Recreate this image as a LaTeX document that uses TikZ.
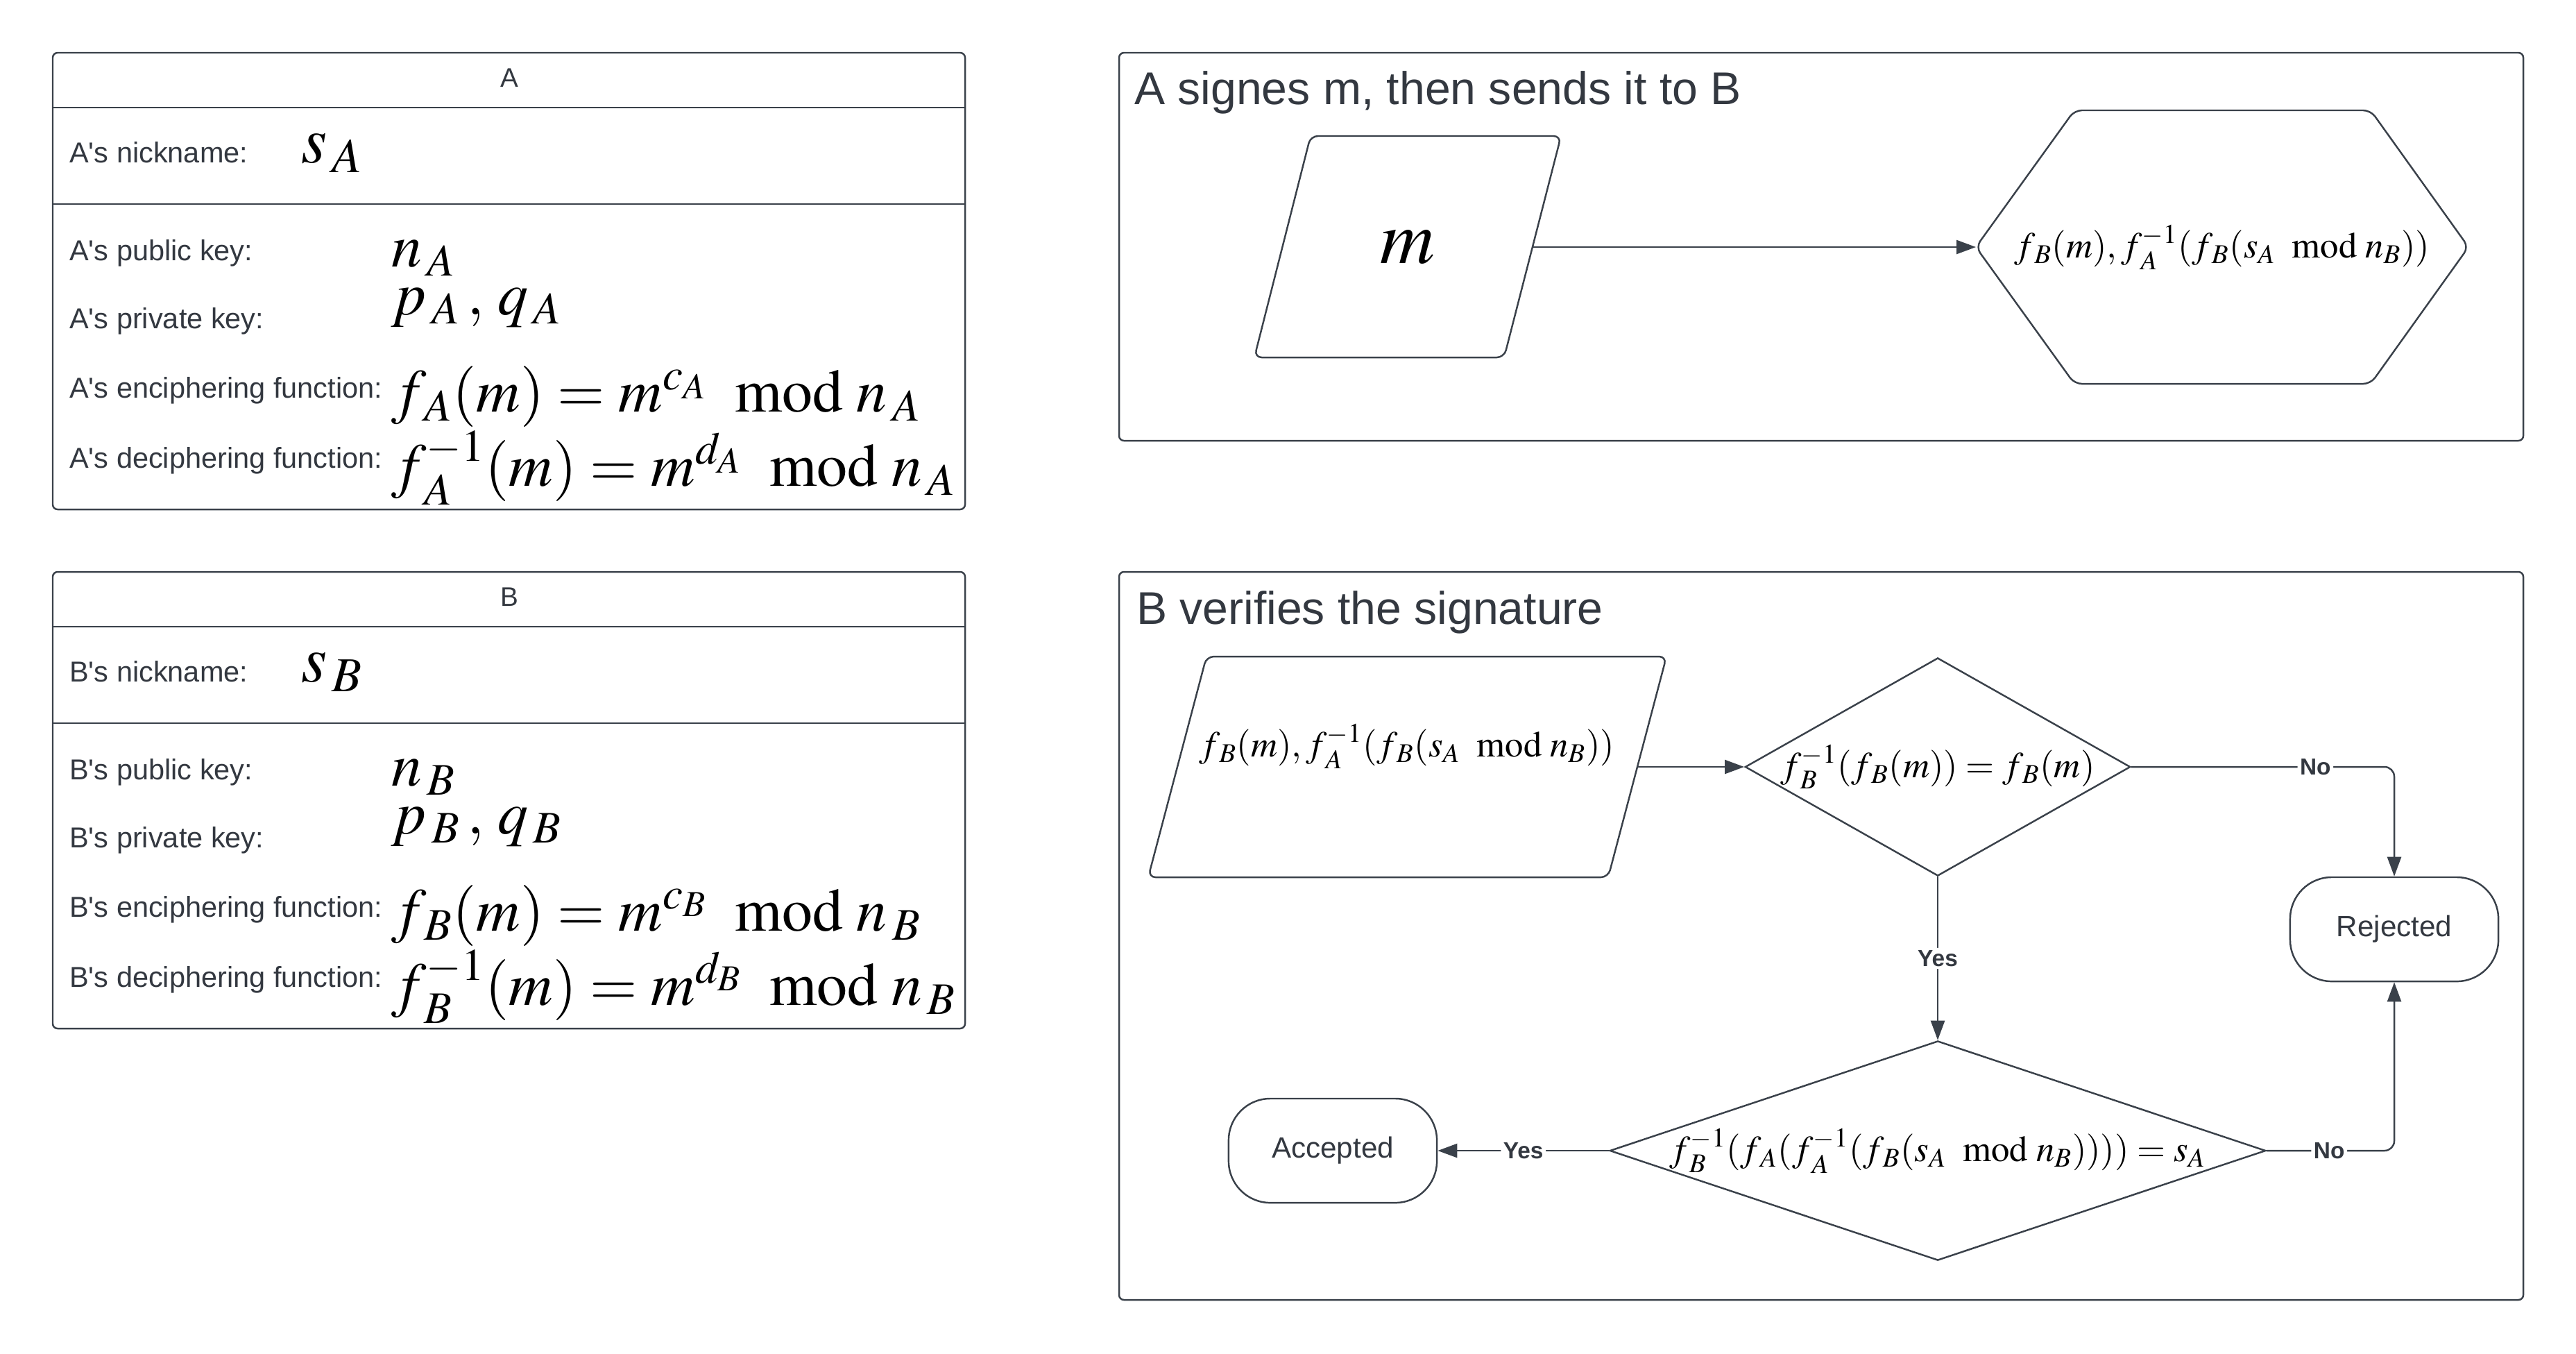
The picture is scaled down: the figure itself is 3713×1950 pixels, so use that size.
\documentclass[tikz,border=0pt]{standalone}
\usepackage{amsmath}
\usepackage{mathptmx}
\usepackage[no-math]{fontspec}
\setmainfont{Liberation Sans}
\usetikzlibrary{shapes.geometric,arrows.meta}
\definecolor{ink}{RGB}{58,65,74}
\definecolor{txt}{RGB}{51,56,64}
\newcommand{\q}{\textquotesingle}
\newcommand{\md}{\mkern8mu\mathrm{mod}\mkern4mu}

\begin{document}
\begin{tikzpicture}[x=0.01cm,y=-0.01cm,line width=0.7pt,
	panel/.style={draw=ink,rounded corners=2pt},
	lbl/.style={anchor=base west,inner sep=0pt,text=txt,font=\fontsize{11.8}{14}\selectfont},
	key/.style={anchor=base west,inner sep=0pt,font=\fontsize{25}{28}\selectfont},
	para/.style={draw=ink,rounded corners=3pt},
	decision/.style={diamond,draw=ink,inner sep=2pt},
	term/.style={rectangle,draw=ink,rounded corners=0.6cm,minimum width=3cm,
		minimum height=1.5cm,text=txt,font=\fontsize{12}{14}\selectfont},
	formula/.style={inner sep=0pt,font=\fontsize{15}{18}\selectfont},
	title/.style={anchor=base west,inner sep=0pt,text=txt,font=\fontsize{18.8}{22}\selectfont},
	flow/.style={draw=ink,rounded corners=4pt,-{Triangle[length=0.28cm,width=0.2cm]}},
	tag/.style={fill=white,inner sep=1pt,text=txt,font=\bfseries\fontsize{9.5}{11}\selectfont}]
	\useasboundingbox (0,0) rectangle (3713,1950);

	% A's keys
	\draw[panel] (76,76) rectangle (1391,734);
	\draw[ink] (76,155) -- (1391,155);
	\draw[ink] (76,294) -- (1391,294);
	\node[text=txt,font=\fontsize{11}{13}\selectfont] (headA) at (734,112) {A};
	\node[lbl] (nickA) at (99,234) {A\q s nickname:};
	\node[key,font=\fontsize{27}{31}\selectfont] (sA) at (433,234) {$s_{\,A}$};
	\node[lbl] (pubA) at (99,375) {A\q s public key:};
	\node[key] (nA) at (563,384) {$n_{\,A}$};
	\node[lbl] (privA) at (99,473) {A\q s private key:};
	\node[key] (pqA) at (563,453) {$p_{\,A}\,,\, q_{\,A}$};
	\node[lbl] (encA) at (99,573) {A\q s enciphering function:};
	\node[key] (fA) at (563,593) {$f_{\,A}(m) = m^{c_A} \md n_{\,A}$};
	\node[lbl] (decA) at (99,674) {A\q s deciphering function:};
	\node[key] (finvA) at (563,700) {$f_{\,A}^{-1}(m) = m^{d_A} \md n_{\,A}$};

	% B's keys
	\draw[panel] (76,824) rectangle (1391,1482);
	\draw[ink] (76,903) -- (1391,903);
	\draw[ink] (76,1042) -- (1391,1042);
	\node[text=txt,font=\fontsize{11}{13}\selectfont] (headB) at (734,860) {B};
	\node[lbl] (nickB) at (99,982) {B\q s nickname:};
	\node[key,font=\fontsize{27}{31}\selectfont] (sB) at (433,982) {$s_{\,B}$};
	\node[lbl] (pubB) at (99,1123) {B\q s public key:};
	\node[key] (nB) at (563,1132) {$n_{\,B}$};
	\node[lbl] (privB) at (99,1221) {B\q s private key:};
	\node[key] (pqB) at (563,1201) {$p_{\,B}\,,\, q_{\,B}$};
	\node[lbl] (encB) at (99,1321) {B\q s enciphering function:};
	\node[key] (fB) at (563,1341) {$f_{\,B}(m) = m^{c_B} \md n_{\,B}$};
	\node[lbl] (decB) at (99,1422) {B\q s deciphering function:};
	\node[key] (finvB) at (563,1448) {$f_{\,B}^{-1}(m) = m^{d_B} \md n_{\,B}$};

	% A signs and sends
	\draw[panel] (1613,76) rectangle (3637,635);
	\node[title] (sendT) at (1634,150) {A signes m, then sends it to B};
	\draw[para] (1889,196) -- (2250,196) -- (2168,515) -- (1808,515) -- cycle;
	\node[font=\fontsize{31}{36}\selectfont] (msg) at (2029,356) {$m$};
	\coordinate (msgE) at (2209,356);
	\draw[para] (2848,356) -- (2990,159) -- (3417,159) -- (3558,356) -- (3417,553) -- (2990,553) -- cycle;
	\coordinate (hexW) at (2848,356);
	\node[formula] (signed) at (3203,356) {$f_{\,B}(m), f_{\,A}^{-1}(f_{\,B}(s_A \md n_B))$};
	\draw[flow] (msgE) -- (hexW);

	% B verifies
	\draw[panel] (1613,824) rectangle (3637,1873);
	\node[title] (checkT) at (1637,899) {B verifies the signature};
	\draw[para] (1739,946) -- (2402,946) -- (2318,1264) -- (1655,1264) -- cycle;
	\node[formula] (recv) at (2028,1075) {$f_{\,B}(m), f_{\,A}^{-1}(f_{\,B}(s_A \md n_B))$};
	\coordinate (recvE) at (2360,1105);
	\node[decision,minimum width=5.55cm,minimum height=3.14cm] (chk1) at (2793,1105) {};
	\node[formula] (chk1T) at (chk1) {$f_{\,B}^{-1}(f_{\,B}(m)) = f_{\,B}(m)$};
	\node[decision,minimum width=9.45cm,minimum height=3.16cm] (chk2) at (2793,1658) {};
	\node[formula] (chk2T) at (chk2) {$f_{\,B}^{-1}(f_{\,A}(f_{\,A}^{-1}(f_{\,B}(s_A \md n_B)))) = s_A$};
	\node[term] (rej) at (3451,1339) {Rejected};
	\node[term] (acc) at (1921,1658) {Accepted};
	\draw[flow] (recvE) -- (chk1);
	\draw[flow] (chk1.east) -| node[tag,pos=0.35] {No} (rej.north);
	\draw[flow] (chk1.south) -- node[tag] {Yes} (chk2.north);
	\draw[flow] (chk2.east) -| node[tag,pos=0.245] {No} (rej.south);
	\draw[flow] (chk2.west) -- node[tag] {Yes} (acc.east);
\end{tikzpicture}
\end{document}
